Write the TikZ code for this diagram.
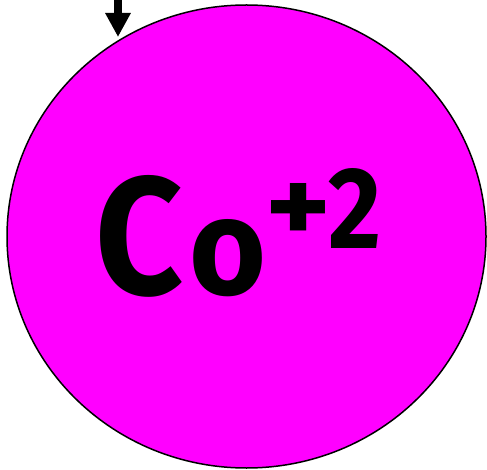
\documentclass[tikz,border=0pt]{standalone}
\usepackage{fontspec}
\usepackage{graphicx}
\setmainfont{Fira Sans}
\usetikzlibrary{arrows.meta,shapes.geometric}
\definecolor{ionmag}{RGB}{255,0,255}
\tikzset{
  ion/.style={draw=black, line width=1.5pt, fill=ionmag},
  glyph/.style={inner sep=0pt, outer sep=0pt, font=\bfseries},
  pointer/.style={line width=8pt, -{Triangle[width=24pt,length=24pt]}}
}
\begin{document}
\begin{tikzpicture}[x=1pt,y=1pt]
\useasboundingbox (0,0) rectangle (487,469);
\node[ion, ellipse, minimum width=479pt, minimum height=463pt, inner sep=0pt] (ion) at (246.5,232.5) {};
\coordinate (top) at (118,469);
\coordinate (tip) at (118,432);
\draw[pointer] (top) -- (tip);
\node[glyph, anchor=south west] (c) at (95,172) {\resizebox{88pt}{119pt}{C}};
\node[glyph, anchor=south west] (o) at (189,172) {\resizebox{77pt}{75pt}{o}};
\node[glyph, anchor=center] (plus) at (299,256) {\resizebox{66pt}{60pt}{+}};
\node[glyph, anchor=south west] (two) at (328,221) {\resizebox{53pt}{80pt}{2}};
\end{tikzpicture}
\end{document}
